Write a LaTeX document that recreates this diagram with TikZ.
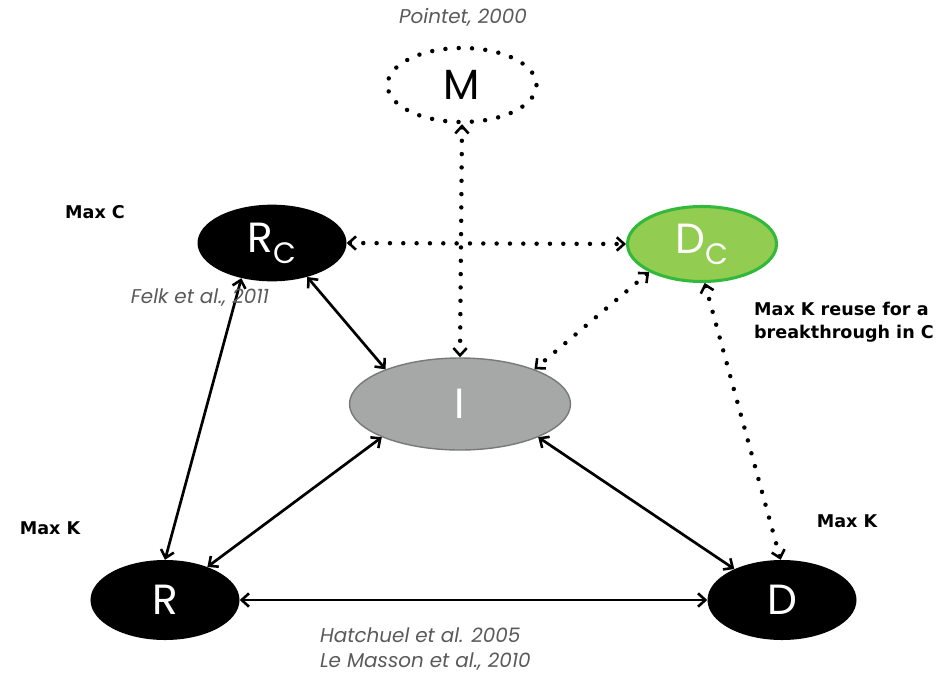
\documentclass[tikz,border=0pt]{standalone}
\usepackage{fontspec}
\setmainfont{Poppins}
\newfontfamily\boldlabel{DejaVu Sans}
\usetikzlibrary{shapes.geometric, arrows.meta}
\definecolor{refgray}{RGB}{90, 90, 90}
\definecolor{ifill}{RGB}{166, 168, 168}
\definecolor{idraw}{RGB}{120, 122, 122}
\definecolor{dcfill}{RGB}{146, 204, 80}
\definecolor{dcdraw}{RGB}{50, 185, 60}
\tikzset{
  barb/.tip={Straight Barb[length=2.2mm, width=4mm, line width=2.2pt]},
  state/.style={ellipse, inner sep=0pt, minimum width=#1, minimum height=2.3cm,
                font=\fontsize{36}{40}\selectfont},
  state/.default=4.47cm,
  darkstate/.style={state, fill=black, text=white},
  dots/.style={line width=3.8pt, line cap=round, dash pattern=on 0pt off 4mm},
  link/.style={barb-barb, line width=2.3pt},
  dotlink/.style={barb-barb, dots},
  cite/.style={text=refgray, font=\fontsize{17}{22}\selectfont\itshape},
  goal/.style={font=\boldlabel\bfseries\fontsize{15}{20}\selectfont},
}
\begin{document}
\begin{tikzpicture}[x=0.03cm, y=-0.03cm]
  \useasboundingbox (0,0) rectangle (937,675);
  % Concepts and knowledge
  \node[state, draw=black, dots, minimum height=2.22cm] (M) at (462,85) {M};
  \node[darkstate] (Rc) at (272,243) {R\textsubscript{C}};
  \node[state, fill=dcfill, draw=dcdraw, line width=2.6pt, text=white, minimum height=2.25cm] (Dc) at (702,244) {D\textsubscript{C}};
  \node[state=6.63cm, fill=ifill, draw=idraw, line width=1.2pt, text=white, minimum height=2.76cm] (I) at (460,404) {I};
  \node[darkstate, minimum height=2.4cm] (R) at (165,600) {R};
  \node[darkstate, minimum height=2.4cm] (D) at (782,600) {D};

  \foreach \source/\target in {Rc.-44/I.155, Rc.229/R.90, R.38/I.203, R.east/D.west, I.337/D.147}
    \draw[link] (\source) -- (\target);
  \foreach \source/\target in {M.south/I.north, Rc.east/Dc.west, Dc.208/I.25, Dc.274/D.92}
    \draw[dotlink] (\source) -- (\target);

  % References and goals
  \node[cite] (pointet) at (463,17) {Pointet, 2000};
  \node[cite] (felk) at (200,298) {Felk et al., 2011};
  \node[cite, align=left, anchor=west] (hatchuel) at (316,649) {Hatchuel et al. 2005\\Le Masson et al., 2010};
  \node[goal] (maxc) at (95,212) {Max C};
  \node[goal, align=left, anchor=west] (reuse) at (750,322) {Max K reuse for a\\breakthrough in C};
  \node[goal] (maxkr) at (50,528) {Max K};
  \node[goal] (maxkd) at (847,521) {Max K};
\end{tikzpicture}
\end{document}
